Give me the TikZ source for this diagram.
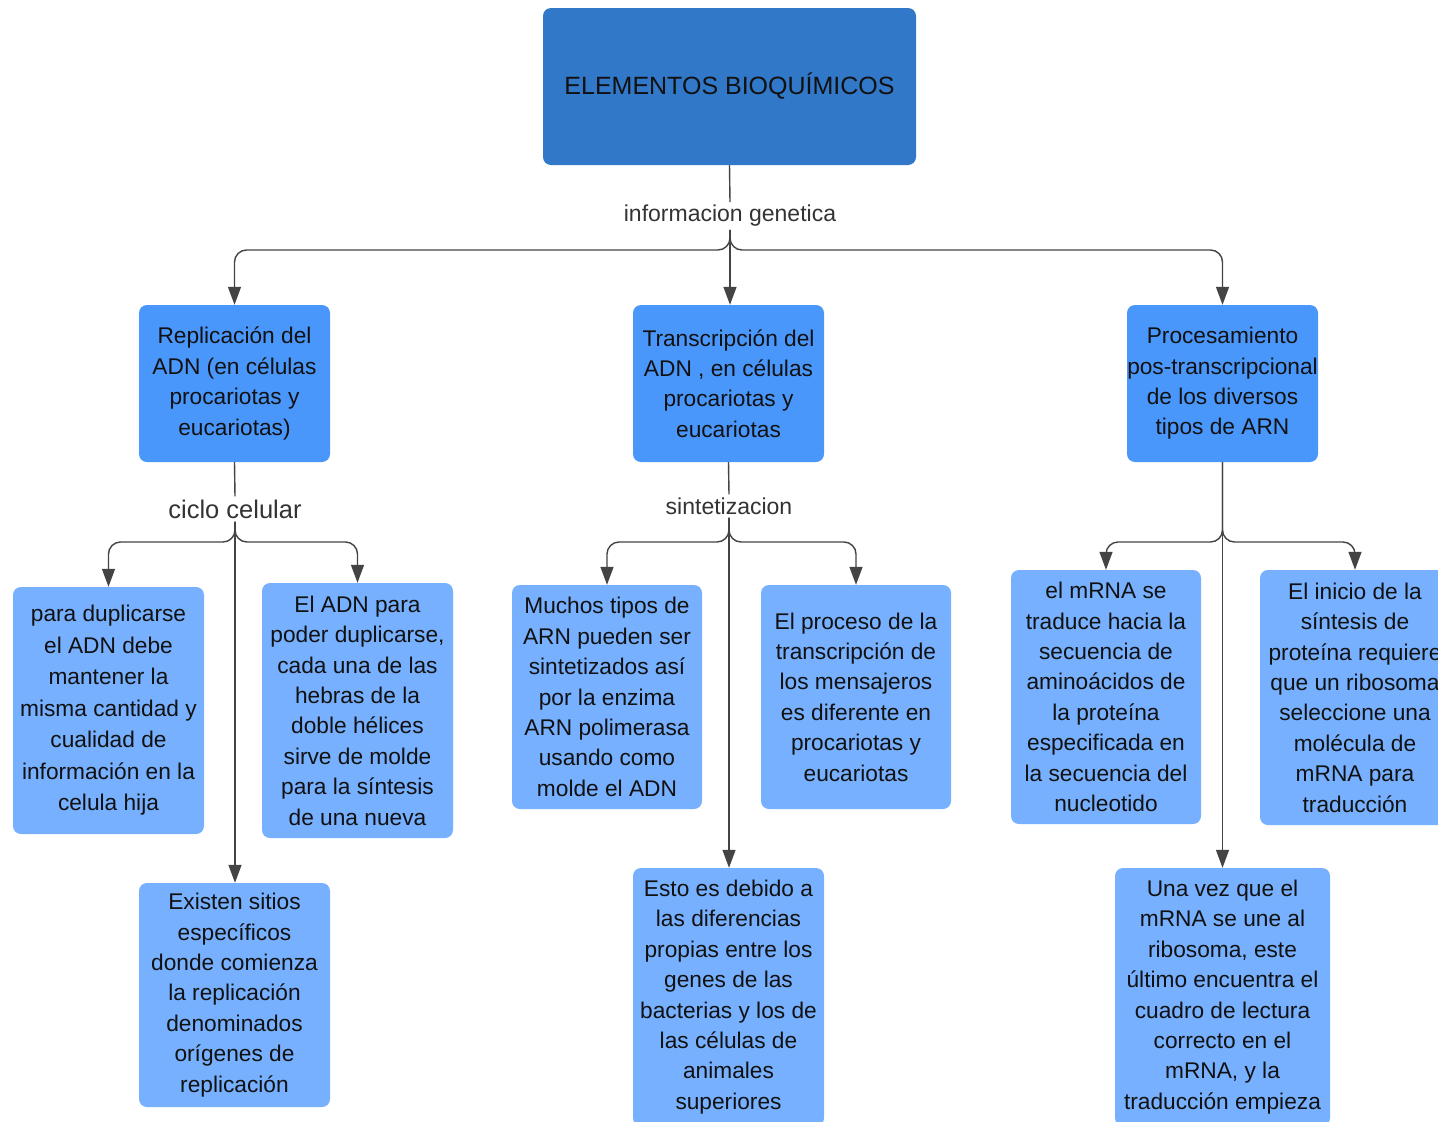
\documentclass[tikz,border=0pt]{standalone}
\usepackage{fontspec}
\setmainfont{Liberation Sans}
\usetikzlibrary{arrows.meta}
\definecolor{ctop}{HTML}{3178C8}
\definecolor{ctwo}{HTML}{4A97FC}
\definecolor{cthree}{HTML}{76B0FF}
\definecolor{linec}{HTML}{444444}
\definecolor{labc}{HTML}{333333}
\definecolor{txtc}{HTML}{111111}
\tikzset{
  box/.style={rectangle, rounded corners=8pt, align=center, inner sep=0pt, text=txtc,
    font=\fontsize{22.7}{30.4}\selectfont},
  lvtop/.style={box, fill=ctop, font=\fontsize{25}{30}\selectfont},
  lvtwo/.style={box, fill=ctwo},
  lvthree/.style={box, fill=cthree},
  conn/.style={draw=linec, line width=1.4pt},
  arr/.style={conn, -{Triangle[width=13pt,length=18pt]}, rounded corners=12pt},
  lab/.style={text=labc, inner sep=3pt, font=\fontsize{23}{28}\selectfont}
}
\begin{document}
\begin{tikzpicture}[x=1pt,y=-1pt]
\useasboundingbox (0,0) rectangle (1438,1122);
\clip (0,0) rectangle (1438,1122);
\fill[white] (0,0) rectangle (1438,1122);

% top
\node[lvtop, minimum width=373pt, minimum height=157pt] (top) at (729.5,86.5) {ELEMENTOS BIOQUÍMICOS};
\node[lab] (lg) at (730,216) {informacion genetica};

% level 2
\node[lvtwo, minimum width=191pt, minimum height=157pt] (rep) at (234.5,383.5)
  {Replicación del\\ADN (en células\\procariotas y\\eucariotas)};
\node[lvtwo, minimum width=191pt, minimum height=157pt] (tra) at (728.5,383.5)
  {Transcripción del\\ADN , en células\\procariotas y\\eucariotas};
\node[lvtwo, minimum width=191pt, minimum height=157pt] (pro) at (1222.5,383.5)
  {Procesamiento\\pos-transcripcional\\de los diversos\\tipos de ARN};

\node[lab, font=\fontsize{25.5}{30}\selectfont] (lc) at (235,509) {ciclo celular};
\node[lab] (ls) at (729,506) {sintetizacion};

% level 3 - replicacion
\node[lvthree, minimum width=191pt, minimum height=247pt, font=\fontsize{22.7}{31.5}\selectfont] (ra) at (108.5,710.5)
  {para duplicarse\\el ADN debe\\mantener la\\misma cantidad y\\cualidad de\\información  en la\\celula hija};
\node[lvthree, minimum width=191pt, minimum height=255pt] (rb) at (357.5,710.5)
  {El ADN para\\poder duplicarse,\\cada una de las\\hebras de la\\doble hélices\\sirve de molde\\para la síntesis\\de una nueva};
\node[lvthree, minimum width=191pt, minimum height=224pt] (rc) at (234.5,995)
  {Existen sitios\\específicos\\donde comienza\\la replicación\\denominados\\orígenes de\\replicación};

% level 3 - transcripcion
\node[lvthree, minimum width=190pt, minimum height=224pt] (ta) at (607,697)
  {Muchos tipos de\\ARN pueden ser\\sintetizados así\\por la enzima\\ARN polimerasa\\usando como\\molde el ADN};
\node[lvthree, minimum width=190pt, minimum height=224pt] (tb) at (856,697)
  {El proceso de la\\transcripción de\\los mensajeros\\es diferente en\\procariotas y\\eucariotas};
\node[lvthree, minimum width=191pt, minimum height=258pt] (tc) at (728.5,997)
  {Esto es debido a\\las diferencias\\propias entre los\\genes de las\\bacterias y los de\\las células de\\animales\\superiores};

% level 3 - procesamiento
\node[lvthree, minimum width=190pt, minimum height=254pt] (pa) at (1106,697)
  {el mRNA se\\traduce hacia la\\secuencia de\\aminoácidos de\\la proteína\\especificada en\\la secuencia del\\nucleotido};
\node[lvthree, minimum width=190pt, minimum height=255pt] (pb) at (1355,697.5)
  {El inicio de la\\síntesis de\\proteína requiere\\que un ribosoma\\seleccione una\\molécula de\\mRNA para\\traducción};
\node[lvthree, minimum width=215pt, minimum height=258pt] (pc) at (1222.5,997)
  {Una vez que el\\mRNA se une al\\ribosoma, este\\último encuentra el\\cuadro de lectura\\correcto en el\\mRNA, y la\\traducción empieza};

% bus levels
\coordinate (busA) at (0,250);
\coordinate (busB) at (0,542);

% connectors level 1
\draw[conn] (top.south) -- (lg.north);
\draw[arr] (lg.south) |- (rep.north |- busA) -- (rep.north);
\draw[arr] (lg.south) |- (pro.north |- busA) -- (pro.north);
\draw[arr] (lg.south) -- (lg.south |- tra.north);

% replicacion
\draw[conn] (rep.south) -- (lc.north);
\draw[arr] (lc.south) |- (ra.north |- busB) -- (ra.north);
\draw[arr] (lc.south) |- (rb.north |- busB) -- (rb.north);
\draw[arr] (lc.south) -- (lc.south |- rc.north);

% transcripcion
\draw[conn] (tra.south) -- (ls.north);
\draw[arr] (ls.south) |- (ta.north |- busB) -- (ta.north);
\draw[arr] (ls.south) |- (tb.north |- busB) -- (tb.north);
\draw[arr] (ls.south) -- (ls.south |- tc.north);

% procesamiento
\draw[arr] (pro.south) |- (pa.north |- busB) -- (pa.north);
\draw[arr] (pro.south) |- (pb.north |- busB) -- (pb.north);
\draw[arr] (pro.south) -- (pro.south |- pc.north);
\end{tikzpicture}
\end{document}
